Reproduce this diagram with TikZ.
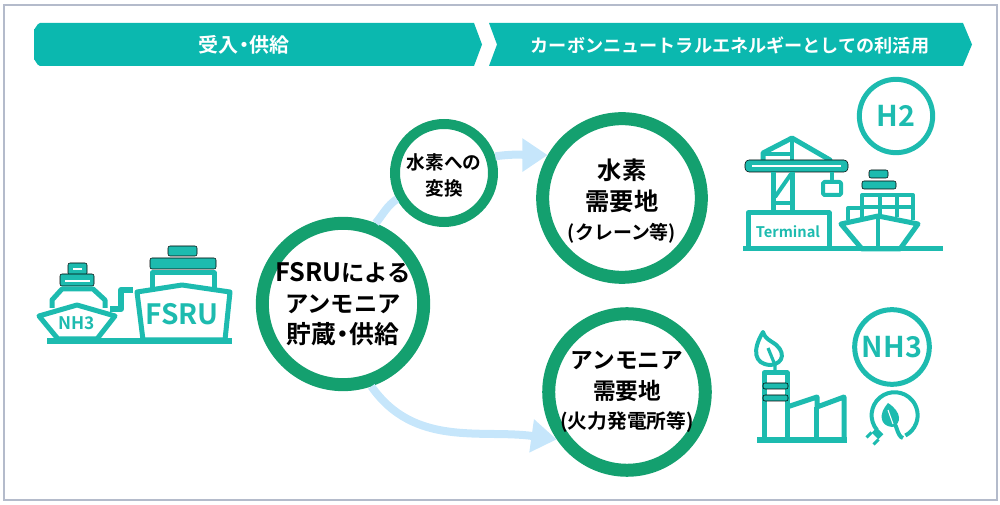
\documentclass[tikz,border=0pt]{standalone}
\usepackage{fontspec}
\setmainfont{Noto Sans CJK JP}[BoldFont={Noto Sans CJK JP Bold}]
\usetikzlibrary{arrows.meta,calc,positioning}
\definecolor{headF}{HTML}{0BB8AF}
\definecolor{iconD}{HTML}{1DBBAF}
\definecolor{ringD}{HTML}{14A06F}
\definecolor{flowC}{HTML}{C6E6FB}
\definecolor{frameC}{HTML}{B4BBCB}
\newcommand\fz[2]{\fontsize{#1}{#2}\selectfont}
\newcommand\ndot{\hspace{-.22em}・\hspace{-.22em}}
\tikzset{
  banner/.style={fill=headF, draw=none},
  bannerlab/.style={text=white, inner sep=0pt, font=\fz{13.6}{16}\bfseries},
  hub/.style={circle, draw=ringD, fill=white, line width=9.75pt, inner sep=0pt, align=center,
              minimum size=#1, font=\fz{17.5}{23.25}\bfseries},
  hub/.default=121pt,
  flow/.style={-{Triangle[length=19pt,width=24pt]}, draw=flowC, line width=6pt},
  flowplain/.style={draw=flowC, line width=6pt},
  icon/.style={draw=iconD, line width=3.75pt, line join=round},
  iconthin/.style={draw=iconD, line width=3pt, line join=round},
  iconfill/.style={fill=iconD, rounded corners=1.5pt},
  iconlab/.style={text=iconD, inner sep=0pt, font=\bfseries},
  badge/.style={circle, draw=iconD, line width=3.75pt, inner sep=0pt, minimum size=55pt, text=iconD, font=\fz{21.5}{24}\bfseries},
}
\begin{document}
\begin{tikzpicture}[x=0.75pt,y=-0.75pt]
\useasboundingbox (0,0) rectangle (1000,505);
\draw[frameC, line width=1.6pt] (4,5) rectangle (997,500);

% header banners
\fill[banner] (40,23) -- (474,23) -- (482,44.5) -- (474,66) -- (40,66) to[out=180,in=90] (34,60) -- (34,29) to[out=-90,in=180] (40,23) -- cycle;
\fill[banner] (489,23) -- (963,23) -- (972,44.5) -- (963,66) -- (489,66) -- (497,44.5) -- cycle;
\node[bannerlab, font=\fz{15}{18}\bfseries] (recv) at (244,45) {受入\ndot 供給};
\node[bannerlab] (use) at (730,45) {カーボンニュートラルエネルギーとしての利活用};

% circles
\node[hub] (fsru) at (343,304) {{\fz{19}{23}FSRU}による\\アンモニア\\{\fz{18.6}{23}貯蔵\ndot 供給}};
\node[hub=73.5pt, line width=7.5pt, font=\fz{14}{19.5}\bfseries] (conv) at (444,173) {\rule{0pt}{16pt}水素への\\変換};
\node[hub=119pt, font=\fz{18.2}{23.25}\bfseries] (hydro) at (622,198) {\rule{0pt}{20pt}水素\\需要地\\[-1pt]{\fz{14.2}{18}(クレーン等)}};
\node[hub=117pt, font=\fz{17}{23.25}\bfseries] (ammo) at (627,392) {アンモニア\\需要地\\[-1pt]{\fz{14.8}{18}(火力発電所等)}};

\draw[flowplain] (fsru.68) to[out=50,in=215] (conv.209);
\draw[flow] (conv.18) to[out=8,in=180] (hydro.150);
\draw[flow] (fsru.-71) to[out=-55,in=172] (ammo.214);

% left ships
\draw[iconfill] (68,263) rectangle (87,275);
\draw[iconfill] (60,274) rectangle (94,286);
\draw[white, line width=1pt] (73,269) -- (82,269);
\draw[white, line width=1pt] (65,281) -- (90,281);
\draw[icon] (52,308) -- (52,300) -- (62,289) -- (93,289) -- (105,300) -- (105,308);
\draw[icon, fill=white] (39,316) -- (77,305) -- (115,316) -- (97,339) -- (58,339) -- cycle;
\draw[icon, line width=4.5pt] (110,309) -- (121,309) -- (121,290) -- (133,290);
\draw[iconfill] (168,246) rectangle (197,256);
\draw[iconfill] (150,258) rectangle (216,269);
\draw[icon] (152,288) -- (152,273) -- (214,273) -- (214,288);
\draw[icon, fill=white] (137,292) -- (182,285) -- (230,292) -- (225,340) -- (143,340) -- cycle;
\draw[icon, line width=4.5pt] (47,341) -- (232,341);
\node[iconlab, font=\fz{13}{14}\bfseries] (shipa) at (77,323) {NH3};
\node[iconlab, font=\fz{21}{22}\bfseries] (shipb) at (182,314) {FSRU};

% crane and terminal
\node[badge] (htwo) at (896,116) {H2};
\draw[icon, line cap=round] (763,162) -- (763,153) -- (792,138) -- (830,160);
\draw[iconthin] (792,138) -- (792,162);
\draw[iconthin] (763,154) -- (792,154);
\draw[iconfill, rounded corners=3pt] (745,160) rectangle (848,172);
\draw[white, line width=0.8pt] (752,166) -- (841,166);
\draw[icon] (773,172) -- (773,212);
\draw[icon] (792,172) -- (792,212);
\draw[iconthin] (775,197) -- (791,174);
\draw[iconthin] (773,203) -- (792,203);
\draw[iconthin] (832,172) -- (832,182);
\draw[iconthin, rounded corners=1pt] (823,182) rectangle (841,195);
\draw[icon] (748,248) -- (748,213) -- (829,213) -- (829,248);
\node[iconlab, font=\fz{11}{12}\bfseries] (term) at (788,232) {Terminal};
\draw[iconfill] (869,170) rectangle (888,178);
\draw[iconfill] (862,181) rectangle (896,189);
\draw[icon, line width=3pt] (848,220) -- (848,208) -- (862,208) -- (862,195) -- (913,195) -- (913,220);
\draw[iconthin] (862,207) -- (913,207);
\draw[iconthin] (862,208) -- (862,219);
\draw[iconthin] (897,195) -- (897,217);
\draw[iconthin] (880,195) -- (880,217);
\draw[icon, fill=white] (841,224) -- (878,216) -- (918,224) -- (900,249) -- (862,249) -- cycle;
\draw[iconthin] (878,216) -- (878,249);
\draw[icon] (743,249) -- (943,249);

% factory
\node[badge, minimum size=56pt] (nhthree) at (892,347) {NH3};
\draw[icon] (764,440) -- (764,373) -- (787,373) -- (787,440);
\draw[iconfill] (763,383) rectangle (788,389);
\draw[iconfill] (763,395) rectangle (788,401);
\draw[icon] (787,407) -- (817,397) -- (817,407) -- (844,397) -- (844,440);
\draw[icon] (816,407) -- (816,440);
\draw[icon, line width=4.5pt] (757,440) -- (847,440);
\draw[iconthin, line width=3pt] (763,332) .. controls (752,350) and (754,364) .. (770,365) .. controls (785,364) and (786,350) .. (772,342) .. controls (767,339) and (764,336) .. (763,332) -- cycle;
\draw[iconthin, line width=2.4pt] (768,348) -- (775,365) -- (775,372);

% leaf and plug
\draw[iconthin] (877,430) arc[start angle=140, end angle=422, radius=23];
\draw[iconthin] (903,438) to[out=170,in=60] (893,425) -- (892,418);
\fill[iconD] (888,403) .. controls (878,414) and (880,426) .. (892,427) .. controls (902,424) and (902,412) .. (888,403) -- cycle;
\draw[white, line width=0.8pt] (888,410) -- (893,424);
\draw[iconD, line width=7pt] (880,431) -- (875,436);
\draw[iconD, line width=2.2pt] (871.5,432.5) -- (866.5,437.5);
\draw[iconD, line width=2.2pt] (878.5,439.5) -- (873.5,444.5);
\end{tikzpicture}
\end{document}
